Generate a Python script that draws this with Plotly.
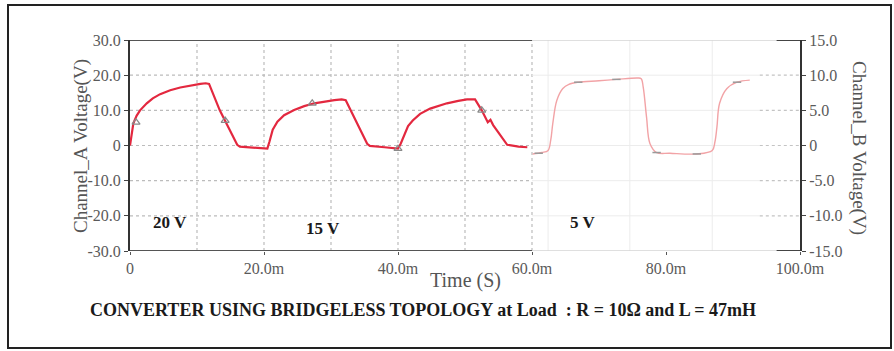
import plotly.graph_objects as go

# ---- data (time in ms) ----
t_a = [0, 0.2, 0.5, 1.0, 1.5, 2.5, 3.4, 4.5, 6.0, 7.5, 9.0, 10.5, 11.3, 11.8, 13.4, 16.0, 16.4,
       18.5, 20.5, 20.8, 21.3, 22.0, 23.0, 24.5, 26.0, 27.5, 29.0, 30.5, 31.6, 32.2, 35.4, 35.8,
       38.0, 40.0, 40.4, 40.9, 41.5, 42.2, 43.3, 44.8, 46.0, 47.3, 49.0, 50.3, 51.5, 52.5, 53.4,
       53.8, 54.2, 56.3, 58.0, 59.3]
v_a = [0, 3.0, 6.3, 8.5, 10.0, 12.0, 13.4, 14.6, 15.7, 16.5, 17.1, 17.5, 17.7, 17.5, 10.0, 0.2, -0.3,
       -0.6, -0.9, 1.0, 4.5, 6.8, 8.6, 10.1, 11.2, 12.0, 12.5, 12.9, 13.1, 12.9, 0.5, -0.1,
       -0.5, -0.9, 0.5, 3.0, 5.5, 7.1, 9.0, 10.5, 11.3, 12.0, 12.7, 13.1, 13.1, 10.0, 6.6,
       7.3, 5.8, 0.2, -0.3, -0.5]

t_b = [60.1, 61.5, 62.4, 62.8, 63.1, 63.7, 64.6, 65.5, 66.9, 70.0, 72.6, 75.8, 76.3, 76.6,
       77.1, 77.6, 78.6, 80.6, 84.6, 86.9, 87.3, 87.6, 88.0, 89.1, 90.6, 92.5]
v_b = [-1.2, -1.0, -0.7, 0.8, 3.1, 6.4, 8.1, 8.7, 9.0, 9.2, 9.4, 9.6, 9.5, 8.3,
       4.0, 0.3, -1.0, -1.1, -1.2, -0.7, 0.5, 2.6, 6.0, 8.1, 9.0, 9.3]

mark_a_t = [0.9, 14.2, 27.2, 40.0, 52.5]
mark_a_v = [6.6, 7.1, 12.0, -0.9, 10.0]
mark_b_t = [61.0, 66.9, 72.6, 78.6, 84.6, 90.6]
mark_b_v = [-1.1, 9.0, 9.4, -1.0, -1.2, 9.0]

x_tickvals = [0, 20, 40, 60, 80, 100]
x_ticktext = ["0", "20.0m", "40.0m", "60.0m", "80.0m", "100.0m"]
ya_tickvals = [-30, -20, -10, 0, 10, 20, 30]
ya_ticktext = ["-30.0", "-20.0", "-10.0", "0", "10.0", "20.0", "30.0"]
yb_tickvals = [-15, -10, -5, 0, 5, 10, 15]
yb_ticktext = ["-15.0", "-10.0", "-5.0", "0", "5.0", "10.0", "15.0"]

labels = ["20 V", "15 V", "5 V"]
label_t = [6.0, 28.8, 67.6]
label_v = [-22.0, -23.7, -22.0]

FONT = "Liberation Serif"

fig = go.Figure()

W, H = 894, 351
L, R, T, B = 130, 94, 40, 100
pw, ph = W - L - R, H - T - B

shapes = []
for gx in [10, 20, 30, 40, 50, 60]:
    shapes.append(dict(type="line", xref="x", yref="y", x0=gx, x1=gx, y0=-30, y1=30,
                       line=dict(color="#bcbcbc", width=1.2, dash="dot"), layer="below"))
for gy in [-20, -10, 0, 10, 20]:
    shapes.append(dict(type="line", xref="x", yref="y", x0=0, x1=60, y0=gy, y1=gy,
                       line=dict(color="#bcbcbc", width=1.2, dash="dot"), layer="below"))
for gx in [62.4, 74.6, 86.9]:
    shapes.append(dict(type="line", xref="x", yref="y", x0=gx, x1=gx, y0=-30, y1=30,
                       line=dict(color="#ececec", width=1), layer="below"))
for gy in [-10, -5, 0, 5, 10]:
    shapes.append(dict(type="line", xref="x", yref="y2", x0=60, x1=94, y0=gy, y1=gy,
                       line=dict(color="#ececec", width=1), layer="below"))
    shapes.append(dict(type="line", xref="x", yref="y2", x0=94, x1=100, y0=gy, y1=gy,
                       line=dict(color="#c4c4c4", width=1.2, dash="dot"), layer="below"))
for yy in [-30, 30]:
    shapes.append(dict(type="line", xref="x", yref="y", x0=0, x1=60, y0=yy, y1=yy,
                       line=dict(color="#555555", width=2)))
    shapes.append(dict(type="line", xref="x", yref="y", x0=60, x1=96.5, y0=yy, y1=yy,
                       line=dict(color="#d4d4d4", width=1.5)))
    shapes.append(dict(type="line", xref="x", yref="y", x0=96.5, x1=100, y0=yy, y1=yy,
                       line=dict(color="#444444", width=2)))
shapes.append(dict(type="rect", xref="paper", yref="paper",
                   x0=(8 - L) / pw, x1=(891 - L) / pw, y0=1 - (348 - T) / ph, y1=1 - (5 - T) / ph,
                   line=dict(color="#222222", width=2)))

fig.add_trace(go.Scatter(x=t_a, y=v_a, mode="lines", line=dict(color="#e3283f", width=2.2),
                         yaxis="y", showlegend=False, hoverinfo="skip"))
fig.add_trace(go.Scatter(x=mark_a_t, y=mark_a_v, mode="markers",
                         marker=dict(symbol="triangle-up-open", size=7, color="#8a8a8a", line=dict(width=1.2)),
                         yaxis="y", showlegend=False, hoverinfo="skip"))
fig.add_trace(go.Scatter(x=t_b, y=v_b, mode="lines", line=dict(color="#f2a3a6", width=1.4, shape="spline"),
                         yaxis="y2", showlegend=False, hoverinfo="skip"))
fig.add_trace(go.Scatter(x=mark_b_t, y=mark_b_v, mode="markers",
                         marker=dict(symbol="line-ew", size=6, color="#9a9a9a", line=dict(width=1.5, color="#9a9a9a")),
                         yaxis="y2", showlegend=False, hoverinfo="skip"))

annotations = []
for txt, tx, ty in zip(labels, label_t, label_v):
    annotations.append(dict(text="<b>" + txt + "</b>", x=tx, y=ty, xref="x", yref="y", showarrow=False,
                            font=dict(family=FONT, size=17, color="#1a1a1a")))

def px_ann(text, x, y, size, angle=0, color="#555555"):
    return dict(text=text, x=(x - L) / pw, y=1 - (y - T) / ph, xref="paper", yref="paper",
                showarrow=False, textangle=angle, font=dict(family=FONT, size=size, color=color))

annotations.append(px_ann("Channel_A Voltage(V)", 68, 146, 19, -90))
annotations.append(px_ann("Channel_B Voltage(V)", 872, 148, 19, 90))
annotations.append(px_ann("Time (S)", 465, 294, 20))
annotations.append(px_ann("<b>CONVERTER USING BRIDGELESS TOPOLOGY at Load  : R = 10Ω and L = 47mH</b>",
                          423, 322, 18, 0, "#1a1a1a"))

tickfont = dict(family=FONT, size=16, color="#5a5a5a")
fig.update_layout(
    width=W, height=H, margin=dict(l=L, r=R, t=T, b=B),
    paper_bgcolor="white", plot_bgcolor="white",
    shapes=shapes, annotations=annotations,
    xaxis=dict(range=[0, 100], tickvals=x_tickvals, ticktext=x_ticktext, showgrid=False, zeroline=False,
               showline=False, ticks="outside", ticklen=3, tickcolor="#555555", tickfont=tickfont),
    yaxis=dict(range=[-30, 30], tickvals=ya_tickvals, ticktext=ya_ticktext, showgrid=False, zeroline=False,
               showline=True, linecolor="#333333", linewidth=2, ticks="outside", ticklen=4, tickcolor="#444444",
               tickfont=tickfont),
    yaxis2=dict(range=[-15, 15], tickvals=yb_tickvals, ticktext=yb_ticktext, overlaying="y", side="right",
                showgrid=False, zeroline=False, showline=True, linecolor="#333333", linewidth=2,
                ticks="outside", ticklen=4, tickcolor="#444444", tickfont=tickfont),
)

fig.write_html("out.html")
